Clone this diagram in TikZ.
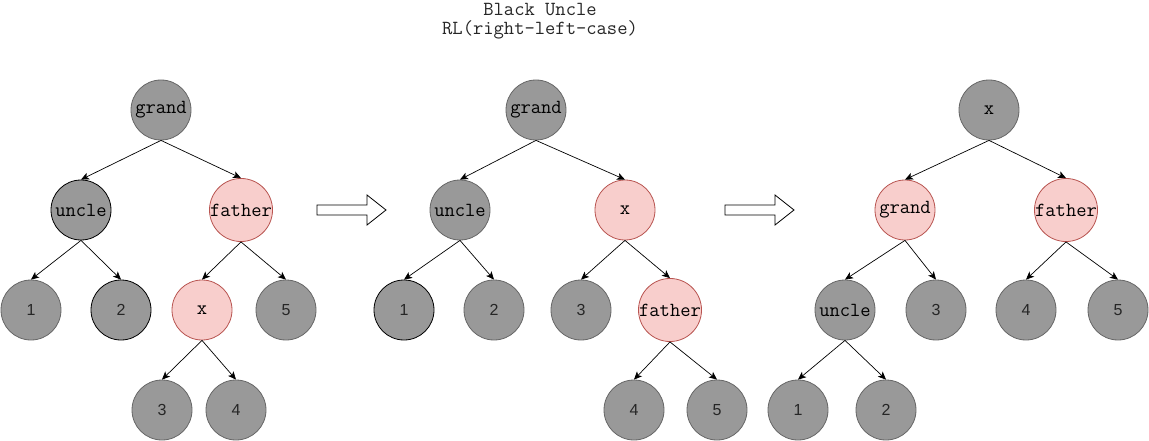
\documentclass[tikz,border=0pt]{standalone}
\usepackage{fontspec}
\setmainfont{Liberation Sans}
\newfontfamily\cour{Latin Modern Mono}
\usetikzlibrary{arrows.meta}
\definecolor{nodegray}{HTML}{999999}
\definecolor{nodeedge}{HTML}{666666}
\definecolor{pinkfill}{HTML}{F8CECC}
\definecolor{pinkedge}{HTML}{B85450}
\tikzset{
  base/.style={circle, minimum size=60pt, inner sep=0pt, line width=0.8pt},
  blk/.style={base, fill=nodegray, draw=nodeedge},
  blkd/.style={base, fill=nodegray, draw=black},
  red/.style={base, fill=pinkfill, draw=pinkedge},
  wtxt/.style={font=\ttfamily\fontsize{20}{22}\selectfont},
  ntxt/.style={font=\fontsize{16}{18}\selectfont, text=black!85},
  edge/.style={draw=black, line width=0.7pt, -{Stealth[length=8pt,width=7pt,inset=2pt]}},
  barrow/.style={draw=black, fill=white, line width=0.8pt},
}
\begin{document}
\begin{tikzpicture}[x=1pt,y=-1pt]
\useasboundingbox (0,0) rectangle (1149,441);
\node[align=center, font=\ttfamily\fontsize{20}{19.5}\selectfont, text=black!85] (title) at (540,21) {Black Uncle\\RL(right-left-case)};

% Tree 1
\node[blk, wtxt] (a-g) at (161,110) {grand};
\node[blkd, wtxt] (a-u) at (81,210) {uncle};
\node[red, wtxt] (a-f) at (241,210) {father};
\node[blk, ntxt] (a-1) at (31,310) {1};
\node[blkd, ntxt] (a-2) at (121,310) {2};
\node[red, wtxt] (a-x) at (202,310) {x};
\node[blk, ntxt] (a-5) at (286,310) {5};
\node[blk, ntxt] (a-3) at (162,410) {3};
\node[blk, ntxt] (a-4) at (236,410) {4};
\foreach \p/\c in {a-g/a-u, a-g/a-f, a-u/a-1, a-u/a-2, a-f/a-x, a-f/a-5, a-x/a-3, a-x/a-4}
  \draw[edge] (\p.south) -- (\c.north);

% Tree 2
\node[blk, wtxt] (b-g) at (536,110) {grand};
\node[blk, wtxt] (b-u) at (460,210) {uncle};
\node[red, wtxt] (b-x) at (625,210) {x};
\node[blkd, ntxt] (b-1) at (404,310) {1};
\node[blk, ntxt] (b-2) at (494,310) {2};
\node[blk, ntxt] (b-3) at (581,310) {3};
\node[red, wtxt] (b-f) at (670,310) {father};
\node[blk, ntxt] (b-4) at (634,410) {4};
\node[blk, ntxt] (b-5) at (717,410) {5};
\foreach \p/\c in {b-g/b-u, b-g/b-x, b-u/b-1, b-u/b-2, b-x/b-3, b-x/b-f, b-f/b-4, b-f/b-5}
  \draw[edge] (\p.south) -- (\c.north);

% Tree 3
\node[blk, wtxt] (c-x) at (989,110) {x};
\node[red, wtxt] (c-g) at (905,210) {grand};
\node[red, wtxt] (c-f) at (1066,210) {father};
\node[blk, wtxt] (c-u) at (845,310) {uncle};
\node[blk, ntxt] (c-3) at (936,310) {3};
\node[blk, ntxt] (c-4) at (1026,310) {4};
\node[blk, ntxt] (c-5) at (1118,310) {5};
\node[blk, ntxt] (c-1) at (798,410) {1};
\node[blk, ntxt] (c-2) at (886,410) {2};
\foreach \p/\c in {c-x/c-g, c-x/c-f, c-g/c-u, c-g/c-3, c-f/c-4, c-f/c-5, c-u/c-1, c-u/c-2}
  \draw[edge] (\p.south) -- (\c.north);

% Block arrows
\draw[barrow] (317,205) -- (367,205) -- (367,195) -- (386,210) -- (367,225) -- (367,215) -- (317,215) -- cycle;
\draw[barrow] (725,205) -- (775,205) -- (775,195) -- (794,210) -- (775,225) -- (775,215) -- (725,215) -- cycle;
\end{tikzpicture}
\end{document}
